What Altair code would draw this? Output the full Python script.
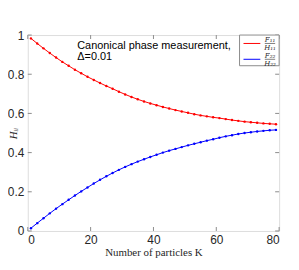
import altair as alt
import pandas as pd

# ---- data ----
K = list(range(1, 80, 2))
F11 = [0.983, 0.957, 0.932, 0.908, 0.885, 0.863, 0.843, 0.823, 0.805, 0.787,
       0.771, 0.755, 0.740, 0.726, 0.711, 0.697, 0.684, 0.672, 0.661, 0.651,
       0.642, 0.633, 0.625, 0.617, 0.610, 0.603, 0.596, 0.590, 0.585, 0.580,
       0.576, 0.571, 0.566, 0.562, 0.558, 0.555, 0.552, 0.549, 0.547, 0.545]
F22 = [0.014, 0.040, 0.065, 0.090, 0.114, 0.137, 0.159, 0.181, 0.202, 0.222,
       0.242, 0.261, 0.279, 0.296, 0.312, 0.327, 0.341, 0.354, 0.366, 0.378,
       0.389, 0.400, 0.410, 0.419, 0.428, 0.437, 0.445, 0.453, 0.461, 0.468,
       0.476, 0.483, 0.489, 0.495, 0.500, 0.504, 0.508, 0.511, 0.514, 0.516]
series_names = ["F11/H11", "F22/H22"]
series_colors = ["#ff0000", "#0000ff"]
x_ticks = [0, 20, 40, 60, 80]
y_ticks = [0, 0.2, 0.4, 0.6, 0.8, 1.0]
legend_top = ["F₁₁", "F₂₂"]
legend_bottom = ["H₁₁", "H₂₂"]
annotation = ["Canonical phase measurement,", "Δ=0.01"]

W, H = 254, 198
GRAY = "#8c8c8c"
TXT = "#262626"

df = pd.DataFrame({
    "K": K + K,
    "v": F11 + F22,
    "s": [series_names[0]] * len(K) + [series_names[1]] * len(K),
})

xs = alt.Scale(domain=[0, 80], nice=False, zero=False)
ys = alt.Scale(domain=[0, 1], nice=False)
color = alt.Color("s:N", scale=alt.Scale(domain=series_names, range=series_colors), legend=None)

x_axis = alt.Axis(values=x_ticks, title="Number of particles K", domain=False, ticks=False,
                  grid=False, labelFontSize=12, labelFont="Liberation Sans", labelColor=TXT,
                  labelPadding=4, titleFont="Liberation Serif", titleFontSize=11,
                  titleFontWeight="normal", titleColor=TXT, titlePadding=1)
y_axis = alt.Axis(values=y_ticks, format="~g", title="Hᵢᵢ", domain=False, ticks=False,
                  grid=False, labelFontSize=12, labelFont="Liberation Sans", labelColor=TXT,
                  labelPadding=4, titleFont="Liberation Serif", titleFontSize=11,
                  titleFontStyle="italic", titleFontWeight="normal", titleColor=TXT,
                  titleAngle=-90, titleX=-20, titleY=99, titleBaseline="top", titleAlign="center")

X = lambda f: alt.X(f, scale=xs, axis=x_axis, title="Number of particles K")
Y = lambda f: alt.Y(f, scale=ys, axis=y_axis, title="Hᵢᵢ")

lines = alt.Chart(df).mark_line(strokeWidth=1, clip=True).encode(
    x=X("K:Q"), y=Y("v:Q"), color=color, detail="s:N",
)
points = alt.Chart(df).mark_point(filled=True, size=6, opacity=1).encode(
    x=X("K:Q"), y=Y("v:Q"), color=color,
)

xt = pd.DataFrame({"t": x_ticks})
yt = pd.DataFrame({"t": y_ticks})
tick_style = dict(color=GRAY, strokeWidth=1)
xb = alt.Chart(xt).mark_rule(**tick_style).encode(
    x=X("t:Q"), y=alt.value(H), y2=alt.value(H - 4))
xtp = alt.Chart(xt).mark_rule(**tick_style).encode(
    x=X("t:Q"), y=alt.value(0), y2=alt.value(4))
yl = alt.Chart(yt).mark_rule(**tick_style).encode(
    y=Y("t:Q"), x=alt.value(0), x2=alt.value(4))
yr = alt.Chart(yt).mark_rule(**tick_style).encode(
    y=Y("t:Q"), x=alt.value(W), x2=alt.value(W - 4))

ann = pd.DataFrame({"t": annotation})
ann1 = alt.Chart(ann.iloc[[0]]).mark_text(align="left", baseline="alphabetic", fontSize=11,
                                            font="Liberation Sans", color="black").encode(
    text="t:N", x=alt.value(50), y=alt.value(14.5))
ann2 = alt.Chart(ann.iloc[[1]]).mark_text(align="left", baseline="alphabetic", fontSize=11,
                                            font="Liberation Sans", color="black").encode(
    text="t:N", x=alt.value(50), y=alt.value(25.5))

# legend box
one = pd.DataFrame({"a": [0]})
box = alt.Chart(one).mark_rect(fill="white", stroke=GRAY, strokeWidth=1).encode(
    x=alt.value(214), x2=alt.value(W), y=alt.value(0), y2=alt.value(31))
leg_layers = [box]
for i, (c, ty) in enumerate(zip(series_colors, [8.5, 24.5])):
    leg_layers.append(alt.Chart(one).mark_rule(color=c, strokeWidth=1).encode(
        x=alt.value(218), x2=alt.value(235), y=alt.value(ty)))
    leg_layers.append(alt.Chart(one).mark_rule(color=TXT, strokeWidth=0.6).encode(
        x=alt.value(239.5), x2=alt.value(250), y=alt.value(ty)))
    leg_layers.append(alt.Chart(pd.DataFrame({"t": [legend_top[i]]})).mark_text(
        fontSize=7, font="DejaVu Serif", fontStyle="italic", color=TXT, baseline="bottom").encode(
        text="t:N", x=alt.value(244.8), y=alt.value(ty - 0.3)))
    leg_layers.append(alt.Chart(pd.DataFrame({"t": [legend_bottom[i]]})).mark_text(
        fontSize=7, font="DejaVu Serif", fontStyle="italic", color=TXT, baseline="top").encode(
        text="t:N", x=alt.value(244.8), y=alt.value(ty + 0.5)))

chart = alt.layer(lines, points, xb, xtp, yl, yr, ann1, ann2, *leg_layers).properties(
    width=W, height=H,
    autosize=alt.AutoSizeParams(type="none"),
    padding={"left": 20, "top": 26, "right": 12, "bottom": 28},
).configure_view(stroke=GRAY, strokeWidth=1).configure(background="white")

chart.save("out.html", embed_options={"renderer": "svg", "actions": False})
